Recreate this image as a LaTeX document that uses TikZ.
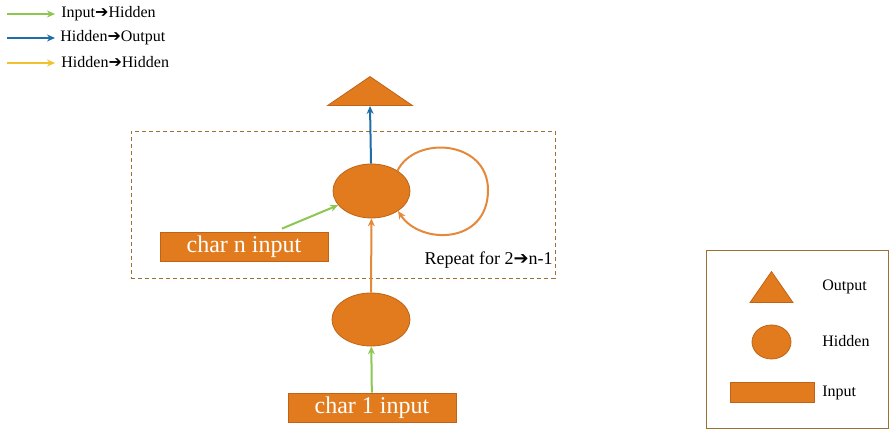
\documentclass[tikz,border=0pt]{standalone}
\usepackage{fontspec}
\setmainfont{Liberation Serif}
\newfontfamily\arrowfont{DejaVu Sans}
\usetikzlibrary{shapes.geometric,arrows.meta}
\definecolor{rnnorange}{HTML}{E27B1E}
\definecolor{rnnedge}{HTML}{BD6418}
\definecolor{ihgreen}{HTML}{8DC651}
\definecolor{hoblue}{HTML}{1F6EA8}
\definecolor{hhyellow}{HTML}{F2C12E}
\definecolor{hhorange}{HTML}{E4883A}
\definecolor{boxedge}{HTML}{9A7033}
\newcommand{\rarr}{{\arrowfont\char"2794}}

\begin{document}
\begin{tikzpicture}[x=0.5pt,y=-0.5pt,
    hid/.style={ellipse, draw=rnnedge, fill=rnnorange, inner sep=0},
    inp/.style={rectangle, draw=rnnedge, fill=rnnorange, text=white, inner sep=0, font=\fontsize{12}{14}\selectfont},
    outp/.style={isosceles triangle, shape border rotate=90, isosceles triangle stretches, draw=rnnedge, fill=rnnorange, inner sep=0, anchor=south},
    tip/.style={-{Stealth[length=4pt,width=3.5pt]}, line width=1pt},
    ih/.style={tip, draw=ihgreen},
    ho/.style={tip, draw=hoblue},
    hh/.style={tip, draw=hhorange},
    lab/.style={anchor=west, inner sep=0, font=\fontsize{8}{10}\selectfont}]
  \useasboundingbox (0,0) rectangle (896,431);

  \coordinate (k1a) at (7,14);  \coordinate (k1b) at (55,14);
  \coordinate (k2a) at (7,38);  \coordinate (k2b) at (55,38);
  \coordinate (k3a) at (7,63);  \coordinate (k3b) at (55,63);
  \draw[ih] (k1a) -- (k1b);
  \draw[ho] (k2a) -- (k2b);
  \draw[tip, draw=hhyellow] (k3a) -- (k3b);
  \node[lab] (key1) at (61,13.5) {Input\rarr Hidden};
  \node[lab] (key2) at (60,37.5) {Hidden\rarr Output};
  \node[lab] (key3) at (61,62.5) {Hidden\rarr Hidden};

  \node[draw=boxedge, dash pattern=on 2pt off 1.5pt, minimum width=212pt, minimum height=73.5pt] (rep) at (343,204.5) {};
  \node[lab, anchor=east, font=\fontsize{9}{11}\selectfont] (replab) at (553,260) {Repeat for 2\rarr n-1};

  \node[outp, minimum width=42.5pt, minimum height=14.5pt] (out) at (370,106) {};
  \node[hid, minimum width=38.5pt, minimum height=27pt] (h2) at (371.5,191) {};
  \node[hid, minimum width=39pt, minimum height=26.5pt] (h1) at (371,319.5) {};
  \node[inp, minimum width=84pt, minimum height=14.5pt] (inN) at (244,246.5) {char n input};
  \node[inp, minimum width=84pt, minimum height=14.5pt] (in1) at (372,407.5) {char 1 input};

  \draw[ih] (in1) -- (h1);
  \draw[hh] (h1) -- (h2);
  \draw[ho] (h2) -- (out.south);
  \draw[ih] ([xshift=19pt,yshift=1.5pt]inN.north) -- (h2.203);
  \draw[hh] (h2.38) .. controls (415,135) and (488,140) .. (488,190)
    .. controls (488,245) and (420,245) .. (h2.-37);

  \node[draw=boxedge, minimum width=91pt, minimum height=89pt] (legend) at (797,339) {};
  \node[outp, minimum width=21.5pt, minimum height=15.5pt] (kout) at (771.5,303) {};
  \node[hid, minimum width=19.5pt, minimum height=17pt] (khid) at (771.5,342) {};
  \node[inp, minimum width=42pt, minimum height=10pt] (kinp) at (772,392) {};
  \node[lab] (koutlab) at (822,286.5) {Output};
  \node[lab] (khidlab) at (822,341.5) {Hidden};
  \node[lab] (kinplab) at (822,392.5) {Input};
\end{tikzpicture}
\end{document}
